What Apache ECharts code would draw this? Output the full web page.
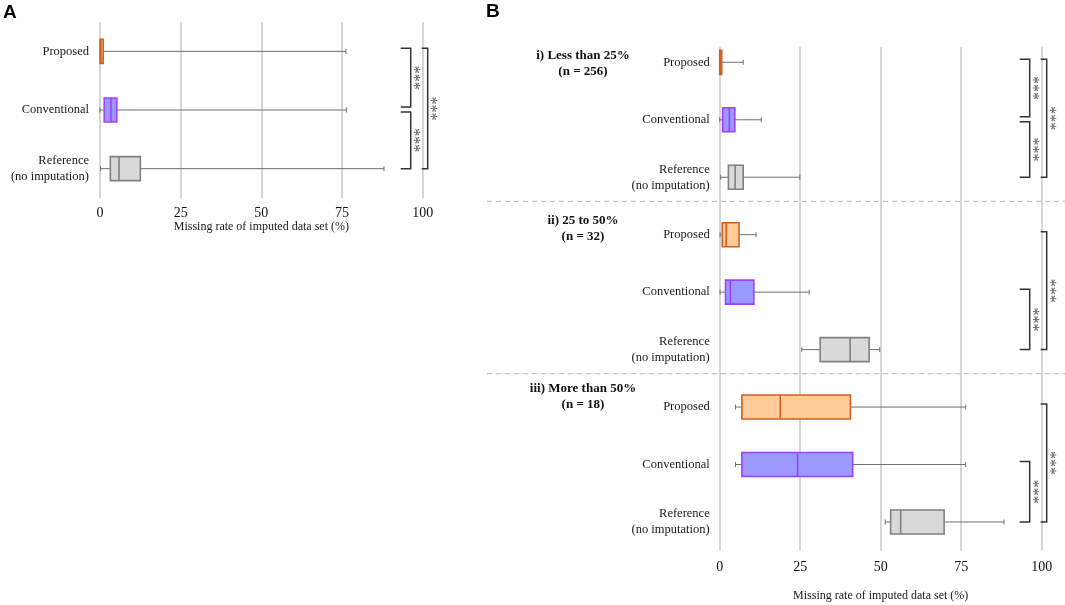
<!DOCTYPE html>
<html><head><meta charset="utf-8">
<script src="https://cdn.jsdelivr.net/npm/echarts@6.0.0/dist/echarts.min.js"></script>
<style>html,body{margin:0;padding:0;background:#fff}#c{width:1065px;height:605px}</style>
</head><body><div id="c"></div>
<script>
// ---------- data ----------
const methods = ['Proposed', 'Conventional', 'Reference\n(no imputation)'];
const groupLabels = ['i) Less than 25%\n(n = 256)', 'ii) 25 to 50%\n(n = 32)', 'iii) More than 50%\n(n = 18)'];
const xTicks = [0, 25, 50, 75, 100];
const axisTitle = 'Missing rate of imputed data set (%)';

// [min, q1, median, q3, max]
const allProposed     = [0, 0, 0.3, 1.0, 76.2];
const allConventional = [0, 1.3, 3.4, 5.2, 76.4];
const allReference    = [0.2, 3.2, 5.9, 12.5, 88.0];

const lt25Proposed     = [0, 0, 0.2, 0.6, 7.3];
const lt25Conventional = [0, 0.9, 3.0, 4.7, 12.9];
const lt25Reference    = [0.3, 2.7, 4.8, 7.3, 24.9];

const mid25to50Proposed     = [0.1, 0.8, 2.0, 6.0, 11.3];
const mid25to50Conventional = [0.1, 1.8, 3.3, 10.6, 27.8];
const mid25to50Reference    = [25.5, 31.2, 40.5, 46.4, 49.7];

const gt50Proposed     = [4.9, 6.9, 18.8, 40.6, 76.4];
const gt50Conventional = [4.9, 6.9, 24.2, 41.3, 76.4];
const gt50Reference    = [51.4, 53.1, 56.2, 69.7, 88.3];

// significance comparisons [fromMethod, toMethod, label]
const compAll  = [[0, 1, '***'], [1, 2, '***'], [0, 2, '***']];
const compLt25 = [[0, 1, '***'], [1, 2, '***'], [0, 2, '***']];
const compMid  = [[1, 2, '***'], [0, 2, '***']];
const compGt50 = [[1, 2, '***'], [0, 2, '***']];

// ---------- styling ----------
const SERIF = '"Liberation Serif", "Times New Roman", serif';
const methodStyles = [
  { fill: '#FFCC99', stroke: '#D2601E' },
  { fill: '#9999FF', stroke: '#A040FF' },
  { fill: '#D9D9D9', stroke: '#808080' }
];

function toRows(statsList, offset) {
  return statsList.map((s, i) => [offset + i].concat(s, [i]));
}
const boxRowsA = toRows([allProposed, allConventional, allReference], 0);
const boxRowsB = [].concat(
  toRows([lt25Proposed, lt25Conventional, lt25Reference], 0),
  toRows([mid25to50Proposed, mid25to50Conventional, mid25to50Reference], 3),
  toRows([gt50Proposed, gt50Conventional, gt50Reference], 6)
);

function toBrackets(list, offset) {
  const inner = list.filter(c => c[1] - c[0] === 1);
  return list.map(c => ({
    from: offset + c[0], to: offset + c[1], label: c[2],
    level: (c[1] - c[0] === 1) ? 0 : 1,
    topShift: (c[1] - c[0] === 1 && inner.some(o => o[1] === c[0])) ? 2 : -3,
    botShift: (c[1] - c[0] === 1 && inner.some(o => o[0] === c[1])) ? -3 : 0
  }));
}
const bracketsA = toBrackets(compAll, 0);
const bracketsB = [].concat(toBrackets(compLt25, 0), toBrackets(compMid, 3), toBrackets(compGt50, 6));

function renderBox(params, api) {
  const idx = api.value(0);
  const y = api.coord([0, idx])[1];
  const px = v => api.coord([v, idx])[0];
  const xmin = px(api.value(1)), xq1 = px(api.value(2)), xmed = px(api.value(3)),
        xq3 = px(api.value(4)), xmax = px(api.value(5));
  const st = methodStyles[api.value(6)];
  const h = 12, cap = 2.5;
  const wl = { stroke: '#707070', lineWidth: 1 };
  const ch = [];
  if (xq1 - xmin > 0.5) {
    ch.push({ type: 'line', shape: { x1: xmin, y1: y, x2: xq1, y2: y }, style: wl });
    ch.push({ type: 'line', shape: { x1: xmin, y1: y - cap, x2: xmin, y2: y + cap }, style: wl });
  }
  if (xmax - xq3 > 0.5) {
    ch.push({ type: 'line', shape: { x1: xq3, y1: y, x2: xmax, y2: y }, style: wl });
    ch.push({ type: 'line', shape: { x1: xmax, y1: y - cap, x2: xmax, y2: y + cap }, style: wl });
  }
  ch.push({ type: 'rect', shape: { x: xq1, y: y - h, width: Math.max(xq3 - xq1, 2), height: 2 * h },
            style: { fill: st.fill, stroke: st.stroke, lineWidth: 1.6 } });
  ch.push({ type: 'line', shape: { x1: xmed, y1: y - h, x2: xmed, y2: y + h },
            style: { stroke: st.stroke, lineWidth: 1.6 } });
  return { type: 'group', children: ch };
}

function makeBracketRenderer(list) {
  return function (params, api) {
    const b = list[params.dataIndex];
    const x100 = api.coord([100, 0])[0];
    const yTop = api.coord([0, b.from])[1] + b.topShift;
    const yBot = api.coord([0, b.to])[1] + b.botShift;
    const vx = b.level === 0 ? x100 - 12 : x100 + 5;
    const tl = b.level === 0 ? 10 : 6;
    return {
      type: 'group',
      children: [
        { type: 'polyline', shape: { points: [[vx - tl, yTop], [vx, yTop], [vx, yBot], [vx - tl, yBot]] },
          style: { stroke: '#333', lineWidth: 1.5, fill: null } },
        { type: 'text', x: vx + 2.5, y: (yTop + yBot) / 2, rotation: Math.PI / 2,
          style: { text: b.label, fill: '#555', font: '16px ' + SERIF, align: 'center', verticalAlign: 'top' } }
      ]
    };
  };
}

const separatorRows = [2, 5];
function renderSeparator(params, api) {
  const idx = api.value(0);
  const band = api.size([0, 1])[1];
  const y = api.coord([0, idx])[1] + band * 0.42;
  return { type: 'line', shape: { x1: 487, y1: y, x2: api.getWidth(), y2: y },
           style: { stroke: '#b4b4b4', lineWidth: 1, lineDash: [5, 4] } };
}

const chart = echarts.init(document.getElementById('c'), null, { renderer: 'canvas' });

const catLabel = { fontFamily: SERIF, fontSize: 12.5, color: '#1a1a1a', lineHeight: 16 };
const tickLabel = { fontFamily: SERIF, fontSize: 14, color: '#111' };
const gridLine = { show: true, lineStyle: { color: '#c8c8c8', width: 1.5 } };

chart.setOption({
  animation: false,
  backgroundColor: '#fff',
  grid: [
    { left: 100, width: 322.7, top: 22, height: 176, outerBoundsMode: 'none' },
    { left: 719.7, width: 322, top: 33.6, height: 517.1, outerBoundsMode: 'none' },
    { left: 719.7, width: 322, top: 47, height: 503.7, outerBoundsMode: 'none' }
  ],
  xAxis: [
    { gridIndex: 0, type: 'value', min: xTicks[0], max: xTicks[xTicks.length - 1], interval: 25,
      splitLine: gridLine, axisLine: { show: false }, axisTick: { show: false },
      axisLabel: Object.assign({ margin: 8 }, tickLabel),
      name: axisTitle, nameLocation: 'middle', nameGap: 21,
      nameTextStyle: { fontFamily: SERIF, fontSize: 12, color: '#1a1a1a' } },
    { gridIndex: 1, type: 'value', min: 0, max: 100, interval: 25, show: false, splitLine: { show: false } },
    { gridIndex: 2, type: 'value', min: xTicks[0], max: xTicks[xTicks.length - 1], interval: 25,
      splitLine: gridLine, axisLine: { show: false }, axisTick: { show: false },
      axisLabel: Object.assign({ margin: 10 }, tickLabel),
      name: axisTitle, nameLocation: 'middle', nameGap: 39,
      nameTextStyle: { fontFamily: SERIF, fontSize: 12, color: '#1a1a1a' } }
  ],
  yAxis: [
    { gridIndex: 0, type: 'category', data: methods, inverse: true,
      axisLine: { show: false }, axisTick: { show: false }, splitLine: { show: false },
      axisLabel: Object.assign({ margin: 11 }, catLabel) },
    { gridIndex: 1, type: 'category', data: [].concat(methods, methods, methods), inverse: true,
      axisLine: { show: false }, axisTick: { show: false }, splitLine: { show: false },
      axisLabel: Object.assign({ margin: 10, interval: 0 }, catLabel) },
    { gridIndex: 2, type: 'value', min: 0, max: 1, show: false }
  ],
  series: [
    { type: 'custom', name: 'boxesA', xAxisIndex: 0, yAxisIndex: 0, renderItem: renderBox,
      data: boxRowsA, encode: { y: 0, x: [1, 5] }, z: 5 },
    { type: 'custom', name: 'boxesB', xAxisIndex: 1, yAxisIndex: 1, renderItem: renderBox,
      data: boxRowsB, encode: { y: 0, x: [1, 5] }, z: 5 },
    { type: 'custom', name: 'bracketsA', xAxisIndex: 0, yAxisIndex: 0, clip: false,
      renderItem: makeBracketRenderer(bracketsA), data: bracketsA.map(b => [b.from, b.to]), encode: { y: 0 }, z: 6 },
    { type: 'custom', name: 'bracketsB', xAxisIndex: 1, yAxisIndex: 1, clip: false,
      renderItem: makeBracketRenderer(bracketsB), data: bracketsB.map(b => [b.from, b.to]), encode: { y: 0 }, z: 6 },
    { type: 'custom', name: 'separators', xAxisIndex: 1, yAxisIndex: 1, clip: false,
      renderItem: renderSeparator, data: separatorRows.map(r => [r]), encode: { y: 0 }, z: 4 }
  ],
  graphic: [
    { type: 'text', left: 3, top: 3, style: { text: 'A', font: 'bold 19px "Liberation Sans", Arial, sans-serif', fill: '#000' } },
    { type: 'text', left: 486, top: 2, style: { text: 'B', font: 'bold 19px "Liberation Sans", Arial, sans-serif', fill: '#000' } },
    { type: 'text', x: 583, y: 63.5, style: { text: groupLabels[0], font: 'bold 13px ' + SERIF, fill: '#111', align: 'center', verticalAlign: 'middle', lineHeight: 16 } },
    { type: 'text', x: 583, y: 228.5, style: { text: groupLabels[1], font: 'bold 13px ' + SERIF, fill: '#111', align: 'center', verticalAlign: 'middle', lineHeight: 16 } },
    { type: 'text', x: 583, y: 397, style: { text: groupLabels[2], font: 'bold 13px ' + SERIF, fill: '#111', align: 'center', verticalAlign: 'middle', lineHeight: 16 } }
  ]
});
</script>
</body></html>
